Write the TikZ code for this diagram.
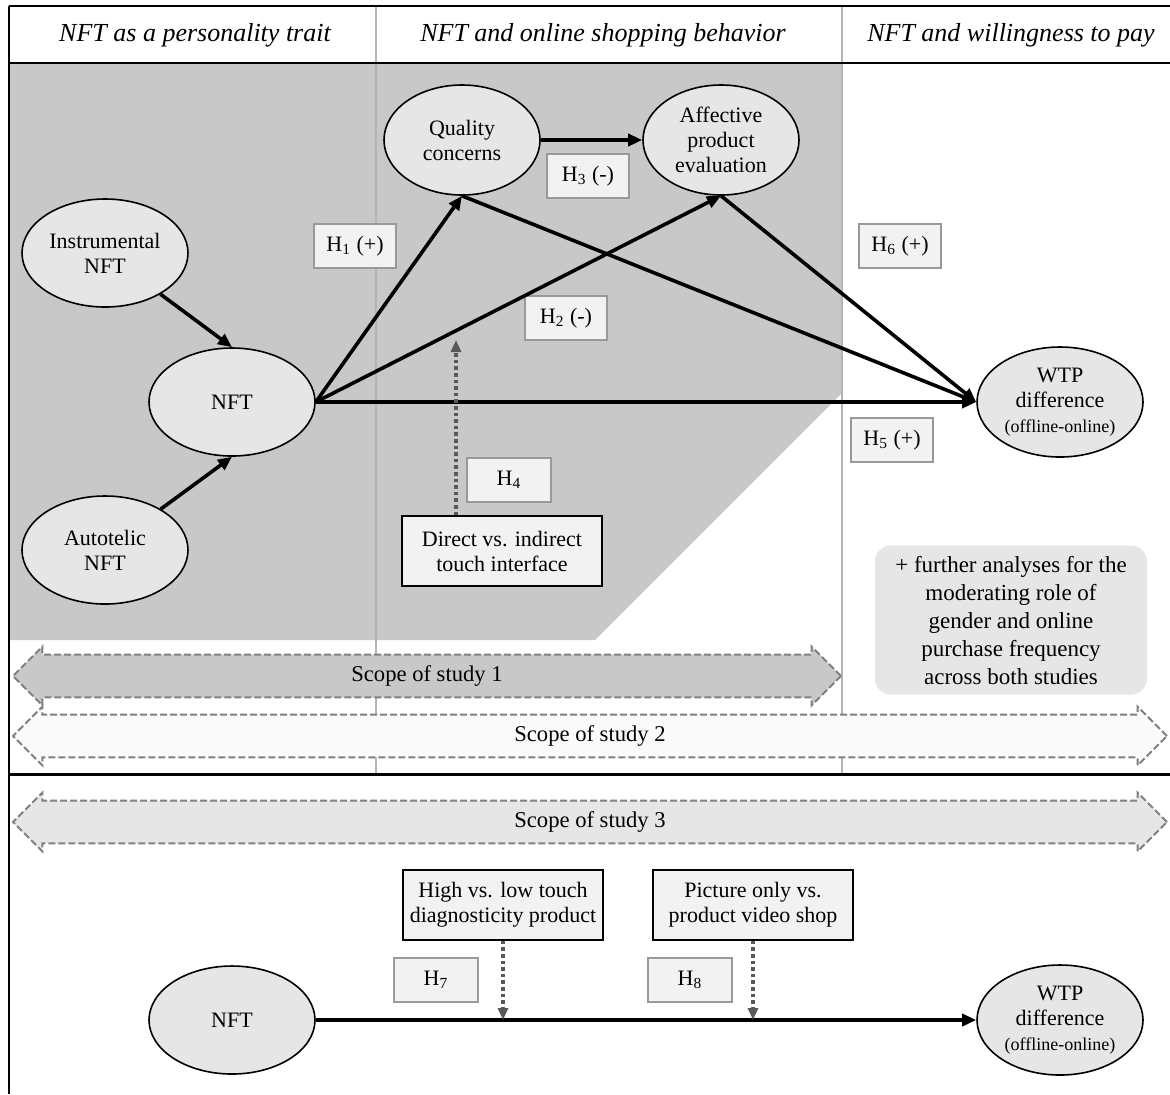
\documentclass[tikz,border=0pt]{standalone}
\usepackage{fontspec}
\setmainfont{Liberation Serif}
\usepackage{tikz}
\usetikzlibrary{arrows.meta,positioning,shapes.geometric,shapes.arrows}
\definecolor{PanelGray}{HTML}{C8C8C8}
\definecolor{NodeGray}{HTML}{E6E6E6}
\definecolor{HypGray}{HTML}{F2F2F2}
\definecolor{RuleGray}{HTML}{B4B4B4}
\definecolor{DashGray}{HTML}{808080}
\definecolor{DotGray}{HTML}{595959}

\begin{document}
\begin{tikzpicture}[
  x=0.5pt,y=-0.5pt,
  construct/.style={ellipse,draw=black,line width=0.8pt,fill=NodeGray,minimum width=83pt,minimum height=54pt,inner sep=1pt,align=center,font=\fontsize{11}{12.5}\selectfont},
  hyp/.style={draw=black!40,line width=0.8pt,fill=HypGray,minimum width=41pt,minimum height=22pt,inner sep=1pt,font=\fontsize{11}{13}\selectfont},
  moderator/.style={draw=black,line width=0.8pt,fill=HypGray,minimum width=100pt,minimum height=35pt,inner sep=1pt,align=center,font=\fontsize{11}{12.5}\selectfont},
  scope/.style={double arrow,double arrow head extend=4pt,draw=DashGray,dash pattern=on 3.5pt off 1.5pt,line width=1pt,minimum width=28pt,inner ysep=5pt,font=\fontsize{11.3}{13}\selectfont},
  heading/.style={font=\fontsize{13}{15}\selectfont\itshape},
  colrule/.style={draw=RuleGray,line width=1pt},
  arr/.style={-{Triangle[length=7pt,width=6pt]},line width=1.8pt},
  modarr/.style={-{Triangle[length=6pt,width=5pt]},line width=1.8pt,draw=DotGray,dash pattern=on 1.8pt off 1.5pt}
]
\useasboundingbox (0,0) rectangle (1170,1094);
% shaded part of study 1
\fill[PanelGray] (10,63) -- (842,63) -- (842,393) -- (595,640) -- (10,640) -- cycle;
\draw[colrule] (376,6) -- (376,774);
\draw[colrule] (842,6) -- (842,774);
% headings
\node[heading] (head1) at (195,35) {NFT as a personality trait};
\node[heading] (head2) at (603,35) {NFT and online shopping behavior};
\node[heading] (head3) at (1011,35) {NFT and willingness to pay};
% scopes
\node[scope,fill=PanelGray,minimum height=414pt] (study1) at (427,676) {Scope of study 1};
\node[scope,fill=white!98!black,minimum height=577pt] (study2) at (590,736) {Scope of study 2};
\node[scope,fill=NodeGray,minimum height=577pt] (study3) at (590,822) {Scope of study 3};
% studies 1 and 2
\node[construct] (instr) at (105,253) {Instrumental\\NFT};
\node[construct] (nft) at (232,402) {NFT};
\node[construct] (auto) at (105,550) {Autotelic\\NFT};
\node[construct,minimum width=78pt,minimum height=55pt] (qual) at (462,140) {Quality\\concerns};
\node[construct,minimum width=78pt,minimum height=55pt] (affect) at (721,140) {Affective\\product\\evaluation};
\node[construct,minimum height=55pt] (wtp) at (1060,402) {WTP\\difference\\{\fontsize{9}{10}\selectfont(offline-online)}};
\node[hyp] (h1) at (355,246) {H\textsubscript{1} (+)};
\node[hyp] (h2) at (566,318) {H\textsubscript{2} (-)};
\node[hyp] (h3) at (588,176) {H\textsubscript{3} (-)};
\node[hyp,minimum width=42pt] (h4) at (509,480) {H\textsubscript{4}};
\node[hyp] (h5) at (892,440) {H\textsubscript{5} (+)};
\node[hyp] (h6) at (900,246) {H\textsubscript{6} (+)};
\node[moderator] (touch) at (502,551) {Direct vs. indirect\\touch interface};
\coordinate (h4tip) at (456,340);
\draw[arr] (instr) -- (nft.north);
\draw[arr] (auto) -- (nft.south);
\draw[arr] (nft.east) -- (qual.south);
\draw[arr] (nft.east) -- (affect.south);
\draw[arr] (nft.east) -- (wtp.west);
\draw[arr] (qual.east) -- (affect.west);
\draw[arr] (qual.south) -- (wtp.west);
\draw[arr] (affect.south) -- (wtp.west);
\draw[modarr] (touch.north -| h4tip) -- (h4tip);
\node[fill=NodeGray,rounded corners=8pt,minimum width=136pt,minimum height=74.5pt,align=center,font=\fontsize{11.5}{14}\selectfont] (further) at (1011,620) {+ further analyses for the\\moderating role of\\gender and online\\purchase frequency\\across both studies};
% study 3
\node[construct] (nftb) at (232,1020) {NFT};
\node[construct,minimum height=55pt] (wtpb) at (1060,1020) {WTP\\difference\\{\fontsize{9}{10}\selectfont(offline-online)}};
\node[moderator] (diag) at (503,905) {High vs. low touch\\diagnosticity product};
\node[moderator] (video) at (753,905) {Picture only vs.\\product video shop};
\node[hyp,minimum width=42pt] (h7) at (436,980) {H\textsubscript{7}};
\node[hyp,minimum width=42pt] (h8) at (690,980) {H\textsubscript{8}};
\draw[arr] (nftb) -- (wtpb);
\draw[modarr] (diag.south) -- (diag.south |- nftb.east);
\draw[modarr] (video.south) -- (video.south |- nftb.east);
% frame
\draw[line width=1pt] (9,6) -- (1170,6);
\draw[line width=1pt] (9,63) -- (1170,63);
\draw[line width=1.5pt] (9,774) -- (1170,774);
\draw[line width=1.2pt] (9,6) -- (9,1094);
\end{tikzpicture}
\end{document}
